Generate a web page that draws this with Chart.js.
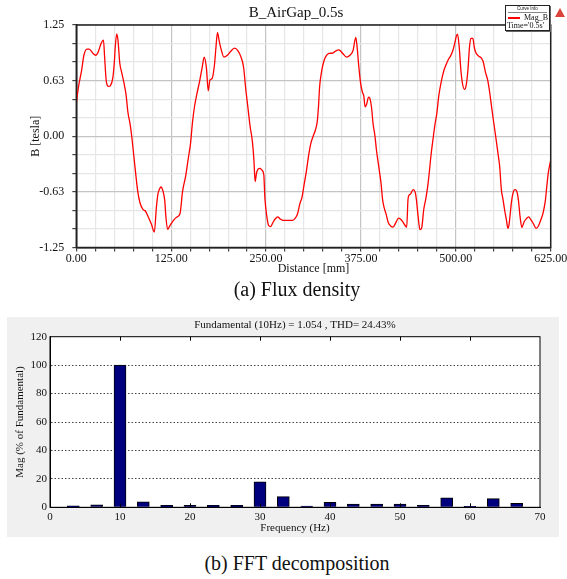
<!DOCTYPE html>
<html lang="en">
<head>
  <meta charset="UTF-8" />
  <title>B_AirGap flux density and FFT</title>
  <style>
    body {
      margin: 0;
      background: #fff;
      width: 567px;
      height: 579px;
      position: relative;
      overflow: hidden;
      font-family: 'Liberation Serif', 'Times New Roman', serif;
      color: #111;
    }
    #fluxChart { position: absolute; left: 0; top: 0; }
    #fftChart { position: absolute; left: 7px; top: 317px; background: #f0f0f0; }
    .caption {
      position: absolute;
      left: 147px;
      width: 300px;
      text-align: center;
      font-size: 20px;
      line-height: 23px;
    }
    #curveInfo {
      position: absolute;
      left: 505px;
      top: 5px;
      width: 43px;
      height: 24px;
      border: 1px solid #222;
      box-shadow: 1px 1px 0 #666;
      background: #fff;
      font-size: 8px;
      line-height: 1;
    }
    #curveInfo .head {
      font-family: 'Liberation Sans', Arial, sans-serif;
      font-size: 4.5px;
      text-align: center;
      height: 6px;
      line-height: 6px;
      margin: 0 2px;
      border-bottom: 1px solid #888;
    }
    #curveInfo .row { position: relative; height: 8px; line-height: 9px; text-align: right; padding-right: 1px; }
    #curveInfo .swatch { position: absolute; left: 2px; top: 4px; width: 12px; height: 1.5px; background: #ff0000; }
    #curveInfo .time { padding-left: 1px; line-height: 9px; }
    #logo {
      position: absolute;
      left: 555px;
      top: 8px;
      width: 0;
      height: 0;
      border-left: 5px solid transparent;
      border-right: 5px solid transparent;
      border-bottom: 9px solid #d9433a;
    }
  </style>
  <script src="https://cdn.jsdelivr.net/npm/chart.js"></script>
</head>
<body>
  <canvas id="fluxChart" width="567" height="280"></canvas>
  <div id="curveInfo">
    <div class="head">Curve Info</div>
    <div class="row"><span class="swatch"></span>Mag_B</div>
    <div class="time">Time='0.5s'</div>
  </div>
  <div id="logo"></div>
  <div class="caption" style="top:278px;">(a) Flux density</div>

  <canvas id="fftChart" width="552" height="220"></canvas>
  <div class="caption" style="top:552px;">(b) FFT decomposition</div>

  <script>
    // ---- (a) air gap flux density ----
    const fluxTitle = "B_AirGap_0.5s";
    const distanceMm = [
      0, 3, 7, 10, 14, 17, 22, 25.5, 29, 32.5, 35.8, 37.3, 39.5, 42.5, 45, 48, 50, 51.3, 53.3, 55,
      57.3, 60, 63, 65.5, 68, 71, 73, 75.5, 78, 80.8, 84, 88, 91, 95, 99, 102.8, 105.5, 107.5, 109.8, 111.6,
      114.3, 116.5, 118, 120.3, 123, 127.5, 132, 136.6, 140, 144, 147.5, 150.5, 153, 155.5, 158.5, 162.5, 166, 168.5, 171.5, 173.8,
      176, 179, 182, 184, 186, 188.5, 191, 194.5, 199, 203, 208.5, 213, 216.5, 220.5, 223, 226, 229, 232, 234, 235.6,
      237.5, 239.5, 242, 244.5, 247, 248.5, 251, 253.5, 256, 259, 262, 265.5, 268.5, 272, 278, 285, 288.5, 291.5, 294.5, 297.5,
      300, 303, 306, 309, 312, 315, 317.5, 319.2, 320.5, 322.8, 326, 329, 333, 338, 342, 346, 351, 356, 360.5, 364.5,
      368.2, 370, 372, 374.5, 376.8, 378.8, 380.5, 382.5, 385, 387, 389, 391, 393.5, 395.5, 398.3, 401.5, 403.5, 405.5, 408, 411,
      414.5, 417.3, 421, 424.5, 427, 430, 433, 435.3, 437, 438.6, 440.3, 443.7, 446.5, 448.2, 450.3, 452.8, 455, 457.8, 460.5, 463,
      465, 467.5, 470, 472.5, 475, 477.5, 480.5, 484, 487, 490, 493, 496, 498.5, 500.5, 502.2, 504.5, 506.6, 508.8, 511.5, 513.8,
      516, 518, 519.8, 522.5, 524.3, 526.3, 530, 533.5, 536, 539, 542, 544.5, 546.5, 549.5, 552.5, 555.5, 557.8, 560, 562, 564.5,
      566.5, 568.6, 570, 571.6, 573.3, 576, 578, 580.4, 582.5, 584.6, 587, 590, 593, 596, 599, 602, 605.8, 609, 612, 615,
      618, 620, 622, 625
    ];
    const fluxB = [
      0.37, 0.56, 0.74, 0.91, 0.98, 0.98, 0.93, 0.91, 0.95, 1.04, 1.08, 0.89, 0.62, 0.56, 0.57, 0.65, 0.82, 1.0, 1.15, 1.07,
      0.82, 0.71, 0.59, 0.47, 0.27, 0.13, 0.0, -0.2, -0.4, -0.61, -0.75, -0.825, -0.84, -0.91, -0.99, -1.077, -0.8, -0.65, -0.59, -0.57,
      -0.62, -0.72, -0.9, -1.047, -1.01, -0.95, -0.91, -0.87, -0.62, -0.45, -0.25, -0.08, 0.15, 0.32, 0.46, 0.62, 0.78, 0.89, 0.76, 0.51,
      0.63, 0.65, 0.8, 1.0, 1.163, 1.06, 0.97, 0.89, 0.91, 0.95, 0.99, 0.96, 0.9, 0.77, 0.55, 0.33, 0.11, -0.06, -0.27, -0.51,
      -0.41, -0.37, -0.36, -0.38, -0.43, -0.7, -0.9, -1.005, -1.015, -0.97, -0.93, -0.905, -0.93, -0.945, -0.945, -0.945, -0.92, -0.87, -0.76, -0.68,
      -0.55, -0.4, -0.22, -0.08, 0.0, 0.07, 0.17, 0.35, 0.55, 0.71, 0.84, 0.9, 0.93, 0.935, 0.96, 0.97, 0.93, 0.89, 0.91, 0.96,
      1.11, 1.0, 0.8, 0.6, 0.5, 0.45, 0.33, 0.36, 0.44, 0.42, 0.32, 0.14, 0.0, -0.16, -0.33, -0.53, -0.71, -0.8, -0.87, -0.97,
      -1.01, -1.02, -0.97, -0.92, -0.93, -0.96, -1.0, -1.02, -0.71, -0.66, -0.65, -0.6, -0.63, -0.72, -0.9, -1.05, -1.03, -0.82, -0.7, -0.56,
      -0.41, -0.2, -0.03, 0.13, 0.26, 0.45, 0.6, 0.73, 0.8, 0.86, 0.9, 0.96, 1.04, 1.12, 1.148, 1.0, 0.75, 0.59, 0.527, 0.58,
      0.75, 1.0, 1.1, 1.1, 1.0, 0.94, 0.9, 0.88, 0.84, 0.72, 0.63, 0.5, 0.37, 0.18, 0.0, -0.19, -0.34, -0.6, -0.7, -0.84,
      -0.93, -1.035, -1.0, -0.88, -0.74, -0.62, -0.6, -0.62, -0.72, -0.9, -1.025, -0.96, -0.925, -0.905, -0.94, -0.98, -1.035, -1.005, -0.94, -0.86,
      -0.72, -0.55, -0.4, -0.27
    ];
    const fluxXTickLabels = ["0.00", "125.00", "250.00", "375.00", "500.00", "625.00"];
    const fluxYTickLabels = ["-1.25", "-0.63", "0.00", "0.63", "1.25"];

    // ---- (b) FFT of the air gap flux density ----
    const fftTitle = "Fundamental (10Hz) = 1.054 , THD= 24.43%";
    const harmonicHz = [3.33, 6.67, 10, 13.33, 16.67, 20, 23.33, 26.67, 30, 33.33,
                        36.67, 40, 43.33, 46.67, 50, 53.33, 56.67, 60, 63.33, 66.67];
    const magPercent = [1.0, 1.8, 100, 3.8, 1.3, 1.4, 1.3, 1.3, 18, 7.5,
                        0.9, 3.5, 2.3, 2.3, 2.3, 1.4, 6.6, 0.7, 6.1, 2.8];
    const fftXTicks = [0, 10, 20, 30, 40, 50, 60, 70];
    const fftYTicks = [0, 20, 40, 60, 80, 100, 120];

    const serif = "'Liberation Serif', 'Times New Roman', serif";

    // white plot area on the grey figure
    const plotBgPlugin = {
      id: 'plotBg',
      beforeDraw(chart, args, opts) {
        if (!opts.color) return;
        const a = chart.chartArea, ctx = chart.ctx;
        ctx.save();
        ctx.fillStyle = opts.color;
        ctx.fillRect(a.left, a.top, a.right - a.left, a.bottom - a.top);
        ctx.restore();
      }
    };

    // black box round the plot area
    const framePlugin = {
      id: 'frame',
      afterDraw(chart, args, opts) {
        const a = chart.chartArea, ctx = chart.ctx;
        ctx.save();
        ctx.strokeStyle = opts.color || '#000';
        ctx.lineWidth = opts.width || 1;
        ctx.strokeRect(a.left, a.top, a.right - a.left, a.bottom - a.top);
        ctx.restore();
      }
    };

    // plot title placed where the original had it
    const plotTitlePlugin = {
      id: 'plotTitle',
      afterDraw(chart, args, opts) {
        if (!opts.text) return;
        const ctx = chart.ctx;
        ctx.save();
        ctx.font = opts.font;
        ctx.fillStyle = '#111';
        ctx.textAlign = 'center';
        ctx.textBaseline = 'middle';
        ctx.fillText(opts.text, opts.x, opts.y);
        ctx.restore();
      }
    };

    // small inward ticks on top and bottom edge of the FFT plot
    const innerTicksPlugin = {
      id: 'innerTicks',
      afterDatasetsDraw(chart, args, opts) {
        if (!opts.values) return;
        const a = chart.chartArea, ctx = chart.ctx, xs = chart.scales.x;
        ctx.save();
        ctx.strokeStyle = '#000';
        ctx.lineWidth = 1;
        opts.values.forEach(v => {
          const px = Math.round(xs.getPixelForValue(v)) + 0.5;
          ctx.beginPath();
          ctx.moveTo(px, a.top); ctx.lineTo(px, a.top + 4);
          ctx.moveTo(px, a.bottom); ctx.lineTo(px, a.bottom - 4);
          ctx.stroke();
        });
        ctx.restore();
      }
    };

    // flux density line chart
    const fluxPoints = distanceMm.map((d, i) => ({ x: d, y: fluxB[i] }));
    const yMinor = 2.5 / 12;

    new Chart(document.getElementById('fluxChart'), {
      type: 'line',
      data: {
        datasets: [{
          label: 'Mag_B',
          data: fluxPoints,
          borderColor: '#ff0000',
          borderWidth: 1.3,
          pointRadius: 0,
          cubicInterpolationMode: 'monotone',
          fill: false
        }]
      },
      options: {
        responsive: false,
        animation: false,
        devicePixelRatio: 1,
        layout: { padding: { top: 25, right: 16.3, left: 0, bottom: 0 } },
        plugins: {
          legend: { display: false },
          tooltip: { enabled: false },
          title: { display: false },
          frame: { color: '#222', width: 1.5 },
          plotTitle: { text: fluxTitle, x: 296, y: 13, font: '15px ' + serif }
        },
        scales: {
          x: {
            type: 'linear',
            min: 0,
            max: 625,
            afterBuildTicks: s => {
              const t = [];
              for (let v = 0; v <= 625; v += 25) t.push({ value: v });
              s.ticks = t;
            },
            afterFit: s => { s.height = 32.5; s.paddingLeft = 0; s.paddingRight = 0; },
            ticks: {
              autoSkip: false,
              maxRotation: 0,
              padding: 0,
              color: '#111',
              font: { family: serif, size: 12 },
              callback: v => (v % 125 === 0 ? fluxXTickLabels[v / 125] : '')
            },
            grid: {
              color: c => (c.tick && c.tick.value % 125 === 0 ? '#c4c4c4' : '#e6e6e6'),
              lineWidth: 1.2,
              tickColor: '#444',
              tickLength: 4
            },
            border: { color: '#222', width: 1.5 },
            title: {
              display: true,
              text: 'Distance [mm]',
              color: '#111',
              font: { family: serif, size: 12 },
              padding: { top: 0, bottom: 3.7 }
            }
          },
          y: {
            min: -1.25,
            max: 1.25,
            afterBuildTicks: s => {
              const t = [];
              for (let i = 0; i <= 12; i++) t.push({ value: -1.25 + i * yMinor });
              s.ticks = t;
            },
            afterFit: s => { s.width = 76.3; s.paddingTop = 0; s.paddingBottom = 0; },
            ticks: {
              autoSkip: false,
              padding: 8,
              color: '#111',
              font: { family: serif, size: 12 },
              callback: (v, i) => (i % 3 === 0 ? fluxYTickLabels[i / 3] : '')
            },
            grid: {
              color: c => (c.index % 3 === 0 ? '#c4c4c4' : '#e6e6e6'),
              lineWidth: 1.2,
              tickColor: '#444',
              tickLength: 4
            },
            border: { color: '#222', width: 1.5 },
            title: {
              display: true,
              text: 'B [tesla]',
              color: '#111',
              font: { family: serif, size: 12 },
              padding: { top: 29, bottom: 0 }
            }
          }
        }
      },
      plugins: [framePlugin, plotTitlePlugin]
    });

    // FFT bar chart
    const fftPoints = harmonicHz.map((f, i) => ({ x: f, y: magPercent[i] }));

    new Chart(document.getElementById('fftChart'), {
      type: 'bar',
      data: {
        datasets: [{
          data: fftPoints,
          backgroundColor: '#00007f',
          borderColor: '#000',
          borderWidth: 1,
          barThickness: 12
        }]
      },
      options: {
        responsive: false,
        animation: false,
        devicePixelRatio: 1,
        layout: { padding: { top: 0, right: 19, left: 0, bottom: 0 } },
        plugins: {
          legend: { display: false },
          tooltip: { enabled: false },
          title: {
            display: true,
            text: fftTitle,
            fullSize: false,
            color: '#111',
            font: { family: serif, size: 11, weight: 'normal', lineHeight: 1.2 },
            padding: { top: 1.5, bottom: 5 }
          },
          plotBg: { color: '#ffffff' },
          frame: { color: '#000', width: 1 },
          innerTicks: { values: [10, 20, 30, 40, 50, 60] }
        },
        scales: {
          x: {
            type: 'linear',
            min: 0,
            max: 70,
            offset: false,
            afterBuildTicks: s => { s.ticks = fftXTicks.map(v => ({ value: v })); },
            afterFit: s => { s.height = 29.7; s.paddingLeft = 0; s.paddingRight = 0; },
            ticks: {
              autoSkip: false,
              maxRotation: 0,
              padding: -5,
              color: '#111',
              font: { family: serif, size: 11 }
            },
            grid: { display: false, offset: false },
            border: { color: '#000' },
            title: {
              display: true,
              text: 'Frequency (Hz)',
              color: '#111',
              font: { family: serif, size: 11 },
              padding: { top: 0, bottom: 1.9 }
            }
          },
          y: {
            min: 0,
            max: 120,
            afterBuildTicks: s => { s.ticks = fftYTicks.map(v => ({ value: v })); },
            afterFit: s => { s.width = 43; s.paddingTop = 0; s.paddingBottom = 0; },
            ticks: {
              padding: 3,
              color: '#111',
              font: { family: serif, size: 11 }
            },
            grid: {
              color: c => (c.tick && (c.tick.value === 0 || c.tick.value === 120) ? 'rgba(0,0,0,0)' : '#444'),
              lineWidth: 1,
              drawTicks: false
            },
            border: { color: '#000', dash: [1.5, 2] },
            title: {
              display: true,
              text: 'Mag (% of Fundamental)',
              color: '#111',
              font: { family: serif, size: 11 },
              padding: { top: 6.4, bottom: 0 }
            }
          }
        }
      },
      plugins: [plotBgPlugin, framePlugin, innerTicksPlugin]
    });
  </script>
</body>
</html>
